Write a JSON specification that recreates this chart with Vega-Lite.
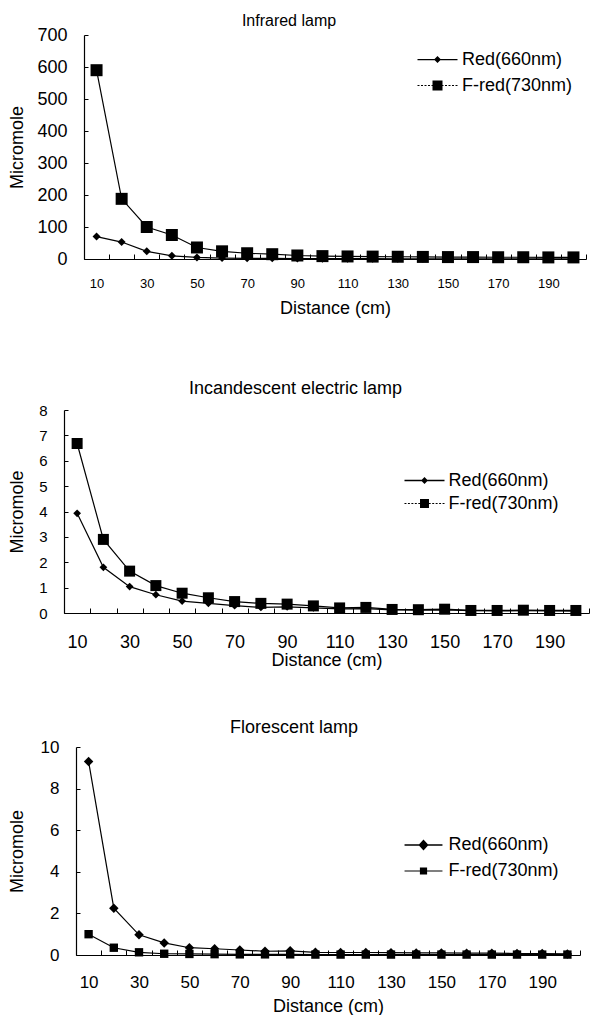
{
  "$schema": "https://vega.github.io/schema/vega-lite/v6.json",
  "background": "white",
  "padding": {"left": 7, "top": 13, "right": 0, "bottom": 0},
  "autosize": {"type": "pad"},
  "config": {
    "font": "Liberation Sans",
    "view": {"stroke": null},
    "axis": {"grid": false, "domainColor": "black", "domainWidth": 1.2, "tickColor": "black", "tickWidth": 1, "labelColor": "black", "titleColor": "black", "labelFont": "Liberation Sans", "titleFont": "Liberation Sans", "titleFontWeight": "normal", "titleFontSize": 18},
    "legend": {"labelFont": "Liberation Sans", "labelColor": "black", "labelFontSize": 18, "padding": 0, "symbolFillColor": "black", "symbolStrokeColor": "black", "symbolStrokeWidth": 0.5, "symbolOpacity": 1},
    "title": {"font": "Liberation Sans", "fontWeight": "normal", "color": "black"}
  },
  "data": {"values": [
    {"lamp": "Infrared lamp", "series": "Red(660nm)", "distance": 10, "value": 70},
    {"lamp": "Infrared lamp", "series": "Red(660nm)", "distance": 20, "value": 53},
    {"lamp": "Infrared lamp", "series": "Red(660nm)", "distance": 30, "value": 24},
    {"lamp": "Infrared lamp", "series": "Red(660nm)", "distance": 40, "value": 10},
    {"lamp": "Infrared lamp", "series": "Red(660nm)", "distance": 50, "value": 5},
    {"lamp": "Infrared lamp", "series": "Red(660nm)", "distance": 60, "value": 3},
    {"lamp": "Infrared lamp", "series": "Red(660nm)", "distance": 70, "value": 2},
    {"lamp": "Infrared lamp", "series": "Red(660nm)", "distance": 80, "value": 2},
    {"lamp": "Infrared lamp", "series": "Red(660nm)", "distance": 90, "value": 1.5},
    {"lamp": "Infrared lamp", "series": "Red(660nm)", "distance": 100, "value": 1},
    {"lamp": "Infrared lamp", "series": "Red(660nm)", "distance": 110, "value": 1},
    {"lamp": "Infrared lamp", "series": "Red(660nm)", "distance": 120, "value": 1},
    {"lamp": "Infrared lamp", "series": "Red(660nm)", "distance": 130, "value": 0.8},
    {"lamp": "Infrared lamp", "series": "Red(660nm)", "distance": 140, "value": 0.8},
    {"lamp": "Infrared lamp", "series": "Red(660nm)", "distance": 150, "value": 0.7},
    {"lamp": "Infrared lamp", "series": "Red(660nm)", "distance": 160, "value": 0.7},
    {"lamp": "Infrared lamp", "series": "Red(660nm)", "distance": 170, "value": 0.6},
    {"lamp": "Infrared lamp", "series": "Red(660nm)", "distance": 180, "value": 0.6},
    {"lamp": "Infrared lamp", "series": "Red(660nm)", "distance": 190, "value": 0.5},
    {"lamp": "Infrared lamp", "series": "Red(660nm)", "distance": 200, "value": 0.5},
    {"lamp": "Infrared lamp", "series": "F-red(730nm)", "distance": 10, "value": 590},
    {"lamp": "Infrared lamp", "series": "F-red(730nm)", "distance": 20, "value": 188},
    {"lamp": "Infrared lamp", "series": "F-red(730nm)", "distance": 30, "value": 100},
    {"lamp": "Infrared lamp", "series": "F-red(730nm)", "distance": 40, "value": 75},
    {"lamp": "Infrared lamp", "series": "F-red(730nm)", "distance": 50, "value": 36},
    {"lamp": "Infrared lamp", "series": "F-red(730nm)", "distance": 60, "value": 24},
    {"lamp": "Infrared lamp", "series": "F-red(730nm)", "distance": 70, "value": 18},
    {"lamp": "Infrared lamp", "series": "F-red(730nm)", "distance": 80, "value": 15},
    {"lamp": "Infrared lamp", "series": "F-red(730nm)", "distance": 90, "value": 11},
    {"lamp": "Infrared lamp", "series": "F-red(730nm)", "distance": 100, "value": 9},
    {"lamp": "Infrared lamp", "series": "F-red(730nm)", "distance": 110, "value": 8},
    {"lamp": "Infrared lamp", "series": "F-red(730nm)", "distance": 120, "value": 7.5},
    {"lamp": "Infrared lamp", "series": "F-red(730nm)", "distance": 130, "value": 7},
    {"lamp": "Infrared lamp", "series": "F-red(730nm)", "distance": 140, "value": 6.5},
    {"lamp": "Infrared lamp", "series": "F-red(730nm)", "distance": 150, "value": 6},
    {"lamp": "Infrared lamp", "series": "F-red(730nm)", "distance": 160, "value": 6},
    {"lamp": "Infrared lamp", "series": "F-red(730nm)", "distance": 170, "value": 5.5},
    {"lamp": "Infrared lamp", "series": "F-red(730nm)", "distance": 180, "value": 5.5},
    {"lamp": "Infrared lamp", "series": "F-red(730nm)", "distance": 190, "value": 5},
    {"lamp": "Infrared lamp", "series": "F-red(730nm)", "distance": 200, "value": 5},
    {"lamp": "Incandescent electric lamp", "series": "Red(660nm)", "distance": 10, "value": 3.93},
    {"lamp": "Incandescent electric lamp", "series": "Red(660nm)", "distance": 20, "value": 1.8},
    {"lamp": "Incandescent electric lamp", "series": "Red(660nm)", "distance": 30, "value": 1.04},
    {"lamp": "Incandescent electric lamp", "series": "Red(660nm)", "distance": 40, "value": 0.72},
    {"lamp": "Incandescent electric lamp", "series": "Red(660nm)", "distance": 50, "value": 0.47},
    {"lamp": "Incandescent electric lamp", "series": "Red(660nm)", "distance": 60, "value": 0.38},
    {"lamp": "Incandescent electric lamp", "series": "Red(660nm)", "distance": 70, "value": 0.29},
    {"lamp": "Incandescent electric lamp", "series": "Red(660nm)", "distance": 80, "value": 0.22},
    {"lamp": "Incandescent electric lamp", "series": "Red(660nm)", "distance": 90, "value": 0.24},
    {"lamp": "Incandescent electric lamp", "series": "Red(660nm)", "distance": 100, "value": 0.2},
    {"lamp": "Incandescent electric lamp", "series": "Red(660nm)", "distance": 110, "value": 0.16},
    {"lamp": "Incandescent electric lamp", "series": "Red(660nm)", "distance": 120, "value": 0.17},
    {"lamp": "Incandescent electric lamp", "series": "Red(660nm)", "distance": 130, "value": 0.12},
    {"lamp": "Incandescent electric lamp", "series": "Red(660nm)", "distance": 140, "value": 0.11},
    {"lamp": "Incandescent electric lamp", "series": "Red(660nm)", "distance": 150, "value": 0.12},
    {"lamp": "Incandescent electric lamp", "series": "Red(660nm)", "distance": 160, "value": 0.09},
    {"lamp": "Incandescent electric lamp", "series": "Red(660nm)", "distance": 170, "value": 0.08},
    {"lamp": "Incandescent electric lamp", "series": "Red(660nm)", "distance": 180, "value": 0.09},
    {"lamp": "Incandescent electric lamp", "series": "Red(660nm)", "distance": 190, "value": 0.08},
    {"lamp": "Incandescent electric lamp", "series": "Red(660nm)", "distance": 200, "value": 0.07},
    {"lamp": "Incandescent electric lamp", "series": "F-red(730nm)", "distance": 10, "value": 6.68},
    {"lamp": "Incandescent electric lamp", "series": "F-red(730nm)", "distance": 20, "value": 2.9},
    {"lamp": "Incandescent electric lamp", "series": "F-red(730nm)", "distance": 30, "value": 1.65},
    {"lamp": "Incandescent electric lamp", "series": "F-red(730nm)", "distance": 40, "value": 1.08},
    {"lamp": "Incandescent electric lamp", "series": "F-red(730nm)", "distance": 50, "value": 0.78},
    {"lamp": "Incandescent electric lamp", "series": "F-red(730nm)", "distance": 60, "value": 0.6},
    {"lamp": "Incandescent electric lamp", "series": "F-red(730nm)", "distance": 70, "value": 0.45},
    {"lamp": "Incandescent electric lamp", "series": "F-red(730nm)", "distance": 80, "value": 0.38},
    {"lamp": "Incandescent electric lamp", "series": "F-red(730nm)", "distance": 90, "value": 0.35},
    {"lamp": "Incandescent electric lamp", "series": "F-red(730nm)", "distance": 100, "value": 0.28},
    {"lamp": "Incandescent electric lamp", "series": "F-red(730nm)", "distance": 110, "value": 0.2},
    {"lamp": "Incandescent electric lamp", "series": "F-red(730nm)", "distance": 120, "value": 0.22},
    {"lamp": "Incandescent electric lamp", "series": "F-red(730nm)", "distance": 130, "value": 0.14},
    {"lamp": "Incandescent electric lamp", "series": "F-red(730nm)", "distance": 140, "value": 0.13},
    {"lamp": "Incandescent electric lamp", "series": "F-red(730nm)", "distance": 150, "value": 0.15},
    {"lamp": "Incandescent electric lamp", "series": "F-red(730nm)", "distance": 160, "value": 0.1},
    {"lamp": "Incandescent electric lamp", "series": "F-red(730nm)", "distance": 170, "value": 0.1},
    {"lamp": "Incandescent electric lamp", "series": "F-red(730nm)", "distance": 180, "value": 0.11},
    {"lamp": "Incandescent electric lamp", "series": "F-red(730nm)", "distance": 190, "value": 0.1},
    {"lamp": "Incandescent electric lamp", "series": "F-red(730nm)", "distance": 200, "value": 0.1},
    {"lamp": "Florescent lamp", "series": "Red(660nm)", "distance": 10, "value": 9.3},
    {"lamp": "Florescent lamp", "series": "Red(660nm)", "distance": 20, "value": 2.25},
    {"lamp": "Florescent lamp", "series": "Red(660nm)", "distance": 30, "value": 0.97},
    {"lamp": "Florescent lamp", "series": "Red(660nm)", "distance": 40, "value": 0.58},
    {"lamp": "Florescent lamp", "series": "Red(660nm)", "distance": 50, "value": 0.35},
    {"lamp": "Florescent lamp", "series": "Red(660nm)", "distance": 60, "value": 0.3},
    {"lamp": "Florescent lamp", "series": "Red(660nm)", "distance": 70, "value": 0.24},
    {"lamp": "Florescent lamp", "series": "Red(660nm)", "distance": 80, "value": 0.18},
    {"lamp": "Florescent lamp", "series": "Red(660nm)", "distance": 90, "value": 0.2},
    {"lamp": "Florescent lamp", "series": "Red(660nm)", "distance": 100, "value": 0.13},
    {"lamp": "Florescent lamp", "series": "Red(660nm)", "distance": 110, "value": 0.12},
    {"lamp": "Florescent lamp", "series": "Red(660nm)", "distance": 120, "value": 0.12},
    {"lamp": "Florescent lamp", "series": "Red(660nm)", "distance": 130, "value": 0.11},
    {"lamp": "Florescent lamp", "series": "Red(660nm)", "distance": 140, "value": 0.1},
    {"lamp": "Florescent lamp", "series": "Red(660nm)", "distance": 150, "value": 0.1},
    {"lamp": "Florescent lamp", "series": "Red(660nm)", "distance": 160, "value": 0.09},
    {"lamp": "Florescent lamp", "series": "Red(660nm)", "distance": 170, "value": 0.09},
    {"lamp": "Florescent lamp", "series": "Red(660nm)", "distance": 180, "value": 0.07},
    {"lamp": "Florescent lamp", "series": "Red(660nm)", "distance": 190, "value": 0.07},
    {"lamp": "Florescent lamp", "series": "Red(660nm)", "distance": 200, "value": 0.05},
    {"lamp": "Florescent lamp", "series": "F-red(730nm)", "distance": 10, "value": 1.0},
    {"lamp": "Florescent lamp", "series": "F-red(730nm)", "distance": 20, "value": 0.35},
    {"lamp": "Florescent lamp", "series": "F-red(730nm)", "distance": 30, "value": 0.13},
    {"lamp": "Florescent lamp", "series": "F-red(730nm)", "distance": 40, "value": 0.06},
    {"lamp": "Florescent lamp", "series": "F-red(730nm)", "distance": 50, "value": 0.05},
    {"lamp": "Florescent lamp", "series": "F-red(730nm)", "distance": 60, "value": 0.04},
    {"lamp": "Florescent lamp", "series": "F-red(730nm)", "distance": 70, "value": 0.03},
    {"lamp": "Florescent lamp", "series": "F-red(730nm)", "distance": 80, "value": 0.03},
    {"lamp": "Florescent lamp", "series": "F-red(730nm)", "distance": 90, "value": 0.03},
    {"lamp": "Florescent lamp", "series": "F-red(730nm)", "distance": 100, "value": 0.02},
    {"lamp": "Florescent lamp", "series": "F-red(730nm)", "distance": 110, "value": 0.02},
    {"lamp": "Florescent lamp", "series": "F-red(730nm)", "distance": 120, "value": 0.02},
    {"lamp": "Florescent lamp", "series": "F-red(730nm)", "distance": 130, "value": 0.02},
    {"lamp": "Florescent lamp", "series": "F-red(730nm)", "distance": 140, "value": 0.02},
    {"lamp": "Florescent lamp", "series": "F-red(730nm)", "distance": 150, "value": 0.02},
    {"lamp": "Florescent lamp", "series": "F-red(730nm)", "distance": 160, "value": 0.02},
    {"lamp": "Florescent lamp", "series": "F-red(730nm)", "distance": 170, "value": 0.02},
    {"lamp": "Florescent lamp", "series": "F-red(730nm)", "distance": 180, "value": 0.02},
    {"lamp": "Florescent lamp", "series": "F-red(730nm)", "distance": 190, "value": 0.02},
    {"lamp": "Florescent lamp", "series": "F-red(730nm)", "distance": 200, "value": 0.02}
  ]},
  "resolve": {"scale": {"shape": "independent"}},
  "vconcat": [
    {
      "resolve": {"scale": {"shape": "independent"}},
      "vconcat": [
        {"resolve": {"scale": {"shape": "independent"}}, "spacing": 0, "hconcat": [
        {"width": 1, "height": 1, "data": {"values": []}, "mark": {"type": "text"}, "encoding": {}},
        {
          "width": 502, "height": 224,
          "title": {"text": "Infrared lamp", "frame": "group", "offset": -3, "dx": -46, "fontSize": 16},
          "transform": [{"filter": "datum.lamp === 'Infrared lamp'"}],
          "encoding": {
            "x": {"field": "distance", "type": "ordinal", "bandPosition": 0.5, "scale": {"type": "band", "paddingInner": 0, "paddingOuter": 0},
              "axis": {"title": "Distance (cm)", "labelAngle": 0, "tickBand": "extent", "tickSize": -5, "labelPadding": 23, "labelFontSize": 13, "labelOverlap": false, "labelExpr": "datum.value % 20 == 10 ? datum.label : ''", "titleY": 40}},
            "y": {"field": "value", "type": "quantitative", "scale": {"domain": [0, 700], "nice": false},
              "axis": {"title": "Micromole", "values": [0, 100, 200, 300, 400, 500, 600, 700], "tickSize": -4, "labelPadding": 21, "labelFontSize": 18, "titleX": -58}}
          },
          "layer": [
            {"mark": {"type": "line", "color": "black", "strokeWidth": 1.2}, "encoding": {"detail": {"field": "series"}}},
            {"mark": {"type": "point", "filled": true, "color": "black", "opacity": 0},
              "encoding": {
                "shape": {"field": "series", "type": "nominal", "scale": {"domain": ["Red(660nm)", "F-red(730nm)"], "range": [
                  "M-1.6,-0.05L1.6,-0.05L1.6,0.05L-1.6,0.05ZM0,-0.28L0.28,0L0,0.28L-0.28,0Z",
                  "M-0.4,-0.4L0.4,-0.4L0.4,0.4L-0.4,0.4ZM-1.6,-0.045L-1.44,-0.045L-1.44,0.045L-1.6,0.045ZM-1.32,-0.045L-1.16,-0.045L-1.16,0.045L-1.32,0.045ZM-1.04,-0.045L-0.88,-0.045L-0.88,0.045L-1.04,0.045ZM-0.76,-0.045L-0.6,-0.045L-0.6,0.045L-0.76,0.045ZM-0.48,-0.045L-0.4,-0.045L-0.4,0.045L-0.48,0.045ZM0.4,-0.045L0.48,-0.045L0.48,0.045L0.4,0.045ZM0.6,-0.045L0.76,-0.045L0.76,0.045L0.6,0.045ZM0.88,-0.045L1.04,-0.045L1.04,0.045L0.88,0.045ZM1.16,-0.045L1.32,-0.045L1.32,0.045L1.16,0.045ZM1.44,-0.045L1.6,-0.045L1.6,0.045L1.44,0.045Z"]},
                  "legend": {"orient": "none", "legendX": 340.5, "legendY": 11.5, "title": null, "symbolSize": 625, "labelOffset": 11.5, "rowPadding": 4, "symbolOpacity": 1}}
              }},
            {"transform": [{"filter": "datum.series === 'Red(660nm)'"}],
              "mark": {"type": "point", "shape": "diamond", "filled": true, "color": "black", "opacity": 1, "size": 64}},
            {"transform": [{"filter": "datum.series === 'F-red(730nm)'"}],
              "mark": {"type": "point", "shape": "square", "filled": true, "color": "black", "opacity": 1, "size": 144}}
          ]
        }]},
        {"resolve": {"scale": {"shape": "independent"}}, "spacing": 0, "hconcat": [
        {"width": 1, "height": 1, "data": {"values": []}, "mark": {"type": "text"}, "encoding": {}},
        {
          "width": 525, "height": 203,
          "title": {"text": "Incandescent electric lamp", "frame": "group", "offset": 5, "dx": -31, "fontSize": 18},
          "transform": [{"filter": "datum.lamp === 'Incandescent electric lamp'"}],
          "encoding": {
            "x": {"field": "distance", "type": "ordinal", "bandPosition": 0.5, "scale": {"type": "band", "paddingInner": 0, "paddingOuter": 0},
              "axis": {"title": "Distance (cm)", "labelAngle": 0, "tickBand": "extent", "tickSize": -5, "labelPadding": 25, "labelFontSize": 18, "labelOverlap": false, "labelExpr": "datum.value % 20 == 10 ? datum.label : ''", "titleY": 38}},
            "y": {"field": "value", "type": "quantitative", "scale": {"domain": [0, 8], "nice": false},
              "axis": {"title": "Micromole", "values": [0, 1, 2, 3, 4, 5, 6, 7, 8], "tickSize": -4, "labelPadding": 21, "labelFontSize": 15, "titleX": -38}}
          },
          "layer": [
            {"mark": {"type": "line", "color": "black", "strokeWidth": 1.2}, "encoding": {"detail": {"field": "series"}}},
            {"mark": {"type": "point", "filled": true, "color": "black", "opacity": 0},
              "encoding": {
                "shape": {"field": "series", "type": "nominal", "scale": {"domain": ["Red(660nm)", "F-red(730nm)"], "range": [
                  "M-1.74,-0.055L1.74,-0.055L1.74,0.055L-1.74,0.055ZM0,-0.3L0.3,0L0,0.3L-0.3,0Z",
                  "M-0.39,-0.39L0.39,-0.39L0.39,0.39L-0.39,0.39ZM-1.74,-0.05L-1.57,-0.05L-1.57,0.05L-1.74,0.05ZM-1.44,-0.05L-1.27,-0.05L-1.27,0.05L-1.44,0.05ZM-1.14,-0.05L-0.97,-0.05L-0.97,0.05L-1.14,0.05ZM-0.84,-0.05L-0.67,-0.05L-0.67,0.05L-0.84,0.05ZM-0.54,-0.05L-0.39,-0.05L-0.39,0.05L-0.54,0.05ZM0.39,-0.05L0.54,-0.05L0.54,0.05L0.39,0.05ZM0.67,-0.05L0.84,-0.05L0.84,0.05L0.67,0.05ZM0.97,-0.05L1.14,-0.05L1.14,0.05L0.97,0.05ZM1.27,-0.05L1.44,-0.05L1.44,0.05L1.27,0.05ZM1.57,-0.05L1.74,-0.05L1.74,0.05L1.57,0.05Z"]},
                  "legend": {"orient": "none", "legendX": 348.5, "legendY": 58.5, "title": null, "symbolSize": 529, "labelOffset": 12, "rowPadding": 2, "symbolOpacity": 1}}
              }},
            {"transform": [{"filter": "datum.series === 'Red(660nm)'"}],
              "mark": {"type": "point", "shape": "diamond", "filled": true, "color": "black", "opacity": 1, "size": 60}},
            {"transform": [{"filter": "datum.series === 'F-red(730nm)'"}],
              "mark": {"type": "point", "shape": "square", "filled": true, "color": "black", "opacity": 1, "size": 121}}
          ]
        }]}
      ],
      "spacing": 63
    },
    {"resolve": {"scale": {"shape": "independent"}}, "spacing": 0, "hconcat": [
    {"width": 1, "height": 1, "data": {"values": []}, "mark": {"type": "text"}, "encoding": {}},
    {
      "width": 504, "height": 208,
      "title": {"text": "Florescent lamp", "frame": "group", "offset": 1, "dx": -34, "fontSize": 18},
      "transform": [{"filter": "datum.lamp === 'Florescent lamp'"}],
      "encoding": {
        "x": {"field": "distance", "type": "ordinal", "bandPosition": 0.5, "scale": {"type": "band", "paddingInner": 0, "paddingOuter": 0},
          "axis": {"title": "Distance (cm)", "labelAngle": 0, "tickBand": "extent", "tickSize": -5, "labelPadding": 24, "labelFontSize": 17, "labelOverlap": false, "labelExpr": "datum.value % 20 == 10 ? datum.label : ''", "titleY": 42}},
        "y": {"field": "value", "type": "quantitative", "scale": {"domain": [0, 10], "nice": false},
          "axis": {"title": "Micromole", "values": [0, 2, 4, 6, 8, 10], "tickSize": -4, "labelPadding": 21, "labelFontSize": 17, "titleX": -50}}
      },
      "layer": [
        {"mark": {"type": "line", "color": "black", "strokeWidth": 1.2}, "encoding": {"detail": {"field": "series"}}},
        {"mark": {"type": "point", "filled": true, "color": "black", "opacity": 0},
          "encoding": {
            "shape": {"field": "series", "type": "nominal", "scale": {"domain": ["Red(660nm)", "F-red(730nm)"], "range": [
              "M-1.58,-0.055L1.58,-0.055L1.58,0.055L-1.58,0.055ZM0,-0.45L0.42,0L0,0.45L-0.42,0Z",
              "M-1.58,-0.05L1.58,-0.05L1.58,0.05L-1.58,0.05ZM-0.3,-0.3L0.3,-0.3L0.3,0.3L-0.3,0.3Z"]},
              "legend": {"orient": "none", "legendX": 335, "legendY": 85.5, "title": null, "symbolSize": 576, "labelOffset": 12.5, "rowPadding": 4, "symbolOpacity": 1}}
          }},
        {"transform": [{"filter": "datum.series === 'Red(660nm)'"}],
          "mark": {"type": "point", "shape": "diamond", "filled": true, "color": "black", "opacity": 1, "size": 90}},
        {"transform": [{"filter": "datum.series === 'F-red(730nm)'"}],
          "mark": {"type": "point", "shape": "square", "filled": true, "color": "black", "opacity": 1, "size": 70}}
      ]
    }]}
  ],
  "spacing": 50
}
